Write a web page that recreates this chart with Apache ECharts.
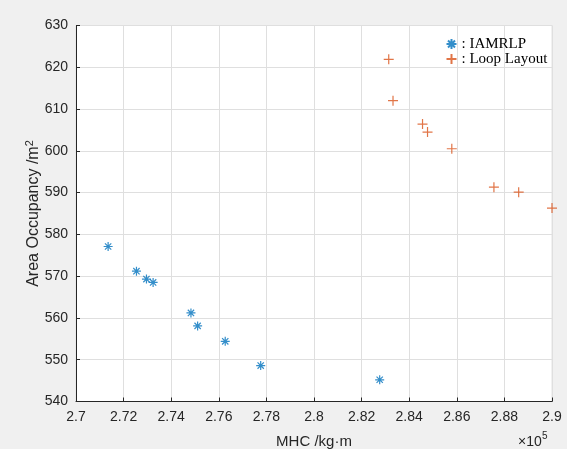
<!DOCTYPE html>
<html><head><meta charset="utf-8">
<script src="https://cdn.jsdelivr.net/npm/echarts@6/dist/echarts.min.js"></script>
<style>html,body{margin:0;padding:0;background:#f0f0f0;}#c{width:567px;height:449px;}</style>
</head><body><div id="c"></div>
<script>
// x values in units of 1e5 kg·m
const iamrlpX = [2.7135, 2.7254, 2.7296, 2.7324, 2.7483, 2.7511, 2.7627, 2.7776, 2.8276];
const iamrlpY = [577.1, 571.2, 569.3, 568.5, 561.2, 558.1, 554.4, 548.6, 545.2];
const loopX = [2.8314, 2.8332, 2.8456, 2.8477, 2.8579, 2.8756, 2.8860, 2.9000];
const loopY = [621.9, 612.0, 606.4, 604.5, 600.5, 591.3, 590.1, 586.3];
const xTicks = ['2.7','2.72','2.74','2.76','2.78','2.8','2.82','2.84','2.86','2.88','2.9'];
const yTicks = [540,550,560,570,580,590,600,610,620,630];

const zip = (a, b) => a.map((v, i) => [v, b[i]]);
const asterisk = 'path://M0,5 L10,5 M5,0 L5,10 M1.5,1.5 L8.5,8.5 M8.5,1.5 L1.5,8.5';
const plus = 'path://M0,5 L10,5 M5,0 L5,10';
const axisColor = '#262626';

const chart = echarts.init(document.getElementById('c'));
chart.setOption({
  backgroundColor: '#f0f0f0',
  animation: false,
  grid: { left: 76, right: 15, top: 25.5, bottom: 47.5, outerBoundsMode: 'none', containLabel: false,
    show: true, backgroundColor: '#ffffff', borderColor: '#e3e3e3', borderWidth: 1 },
  xAxis: {
    type: 'value', min: 2.7, max: 2.9, interval: 0.02,
    name: 'MHC /kg·m', nameLocation: 'middle', nameGap: 33, nameMoveOverlap: false,
    nameTextStyle: { fontFamily: 'Liberation Sans, Arial', fontSize: 15, color: axisColor },
    axisLine: { show: true, lineStyle: { color: axisColor, width: 1 } },
    axisTick: { show: true, inside: true, length: 4, lineStyle: { color: axisColor } },
    axisLabel: { fontFamily: 'Liberation Sans, Arial', fontSize: 14, color: axisColor, margin: 9,
      formatter: v => xTicks[Math.round((v - 2.7) / 0.02)] },
    splitLine: { show: true, lineStyle: { color: '#dfdfdf', width: 1 } }
  },
  yAxis: {
    type: 'value', min: 540, max: 630, interval: 10,
    name: 'Area Occupancy /m{sup|2}', nameLocation: 'middle', nameGap: 32, nameRotate: 90, nameMoveOverlap: false,
    nameTextStyle: { fontFamily: 'Liberation Sans, Arial', fontSize: 16, color: axisColor,
      rich: { sup: { fontFamily: 'Liberation Sans, Arial', fontSize: 11, color: axisColor, verticalAlign: 'top', padding: [0,0,9,0] } } },
    axisLine: { show: true, lineStyle: { color: axisColor, width: 1 } },
    axisTick: { show: true, inside: true, length: 4, lineStyle: { color: axisColor } },
    axisLabel: { fontFamily: 'Liberation Sans, Arial', fontSize: 14, color: axisColor, margin: 8,
      formatter: v => String(yTicks[Math.round((v - 540) / 10)]) },
    splitLine: { show: true, lineStyle: { color: '#dfdfdf', width: 1 } }
  },
  legend: {
    orient: 'vertical', left: 439, top: 31.5, itemWidth: 10, itemHeight: 10, itemGap: 0,
    formatter: ': {name}',
    textStyle: { fontFamily: 'Liberation Serif, Times New Roman', fontSize: 15, lineHeight: 15, color: '#000' },
    data: ['IAMRLP', 'Loop Layout']
  },
  series: [
    { name: 'IAMRLP', type: 'scatter', data: zip(iamrlpX, iamrlpY), symbol: asterisk, symbolSize: 9,
      itemStyle: { color: 'none', borderColor: '#0072BD', borderWidth: 1.2 } },
    { name: 'Loop Layout', type: 'scatter', data: zip(loopX, loopY), symbol: plus, symbolSize: 10,
      itemStyle: { color: 'none', borderColor: '#D95319', borderWidth: 1.2 } }
  ],
  graphic: [
    { type: 'text', left: 518, top: 435, style: { text: '×10', font: '14px "Liberation Sans", Arial', fill: axisColor } },
    { type: 'text', left: 542, top: 431, style: { text: '5', font: '10px "Liberation Sans", Arial', fill: axisColor } }
  ]
});
</script></body></html>
